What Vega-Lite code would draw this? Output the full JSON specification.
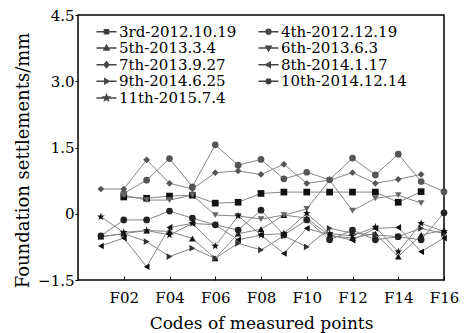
{
"$schema": "https://vega.github.io/schema/vega-lite/v6.json",
"width": 366, "height": 265,
"autosize": {"type": "none"},
"padding": {"left": 78, "top": 15, "right": 22, "bottom": 53},
"background": "white",
"config": {
 "view": {"stroke": "black", "strokeWidth": 1.5},
 "font": "DejaVu Serif",
 "axis": {"labelFont": "DejaVu Serif", "labelFontSize": 15, "labelColor": "black", "titleFont": "DejaVu Serif", "titleFontSize": 17, "titleFontWeight": "normal", "titleColor": "black", "tickColor": "black", "grid": false, "domain": false}
},
"data": {"values": [
{"s":"3rd-2012.10.19","p":2,"v":0.38},{"s":"3rd-2012.10.19","p":3,"v":0.35},{"s":"3rd-2012.10.19","p":4,"v":0.40},{"s":"3rd-2012.10.19","p":5,"v":0.42},{"s":"3rd-2012.10.19","p":6,"v":0.24},{"s":"3rd-2012.10.19","p":7,"v":0.26},{"s":"3rd-2012.10.19","p":8,"v":0.46},{"s":"3rd-2012.10.19","p":9,"v":0.49},{"s":"3rd-2012.10.19","p":10,"v":0.49},{"s":"3rd-2012.10.19","p":11,"v":0.49},{"s":"3rd-2012.10.19","p":12,"v":0.49},{"s":"3rd-2012.10.19","p":13,"v":0.49},{"s":"3rd-2012.10.19","p":14,"v":0.26},{"s":"3rd-2012.10.19","p":15,"v":0.50},
{"s":"4th-2012.12.19","p":2,"v":0.46},{"s":"4th-2012.12.19","p":3,"v":0.76},{"s":"4th-2012.12.19","p":4,"v":1.25},{"s":"4th-2012.12.19","p":5,"v":0.61},{"s":"4th-2012.12.19","p":6,"v":1.56},{"s":"4th-2012.12.19","p":7,"v":1.10},{"s":"4th-2012.12.19","p":8,"v":1.23},{"s":"4th-2012.12.19","p":9,"v":0.79},{"s":"4th-2012.12.19","p":10,"v":0.94},{"s":"4th-2012.12.19","p":11,"v":0.77},{"s":"4th-2012.12.19","p":12,"v":1.26},{"s":"4th-2012.12.19","p":13,"v":0.88},{"s":"4th-2012.12.19","p":14,"v":1.35},{"s":"4th-2012.12.19","p":15,"v":0.73},{"s":"4th-2012.12.19","p":16,"v":0.50},
{"s":"5th-2013.3.4","p":1,"v":-0.52},{"s":"5th-2013.3.4","p":2,"v":-0.45},{"s":"5th-2013.3.4","p":3,"v":-0.38},{"s":"5th-2013.3.4","p":4,"v":-0.40},{"s":"5th-2013.3.4","p":5,"v":-0.56},{"s":"5th-2013.3.4","p":6,"v":-1.01},{"s":"5th-2013.3.4","p":7,"v":-0.45},{"s":"5th-2013.3.4","p":8,"v":-0.35},{"s":"5th-2013.3.4","p":9,"v":-0.03},{"s":"5th-2013.3.4","p":10,"v":-0.10},{"s":"5th-2013.3.4","p":11,"v":-0.50},{"s":"5th-2013.3.4","p":12,"v":-0.55},{"s":"5th-2013.3.4","p":13,"v":-0.45},{"s":"5th-2013.3.4","p":14,"v":-0.97},{"s":"5th-2013.3.4","p":15,"v":-0.48},{"s":"5th-2013.3.4","p":16,"v":-0.37},
{"s":"6th-2013.6.3","p":2,"v":0.42},{"s":"6th-2013.6.3","p":3,"v":0.31},{"s":"6th-2013.6.3","p":4,"v":0.31},{"s":"6th-2013.6.3","p":5,"v":0.42},{"s":"6th-2013.6.3","p":6,"v":-0.03},{"s":"6th-2013.6.3","p":7,"v":-0.05},{"s":"6th-2013.6.3","p":8,"v":-0.12},{"s":"6th-2013.6.3","p":9,"v":-0.03},{"s":"6th-2013.6.3","p":10,"v":0.11},{"s":"6th-2013.6.3","p":11,"v":0.76},{"s":"6th-2013.6.3","p":12,"v":0.07},{"s":"6th-2013.6.3","p":13,"v":0.35},{"s":"6th-2013.6.3","p":14,"v":0.42},{"s":"6th-2013.6.3","p":15,"v":0.24},
{"s":"7th-2013.9.27","p":1,"v":0.56},{"s":"7th-2013.9.27","p":2,"v":0.56},{"s":"7th-2013.9.27","p":3,"v":1.22},{"s":"7th-2013.9.27","p":4,"v":0.69},{"s":"7th-2013.9.27","p":5,"v":0.56},{"s":"7th-2013.9.27","p":6,"v":0.93},{"s":"7th-2013.9.27","p":7,"v":0.97},{"s":"7th-2013.9.27","p":8,"v":0.89},{"s":"7th-2013.9.27","p":9,"v":1.12},{"s":"7th-2013.9.27","p":10,"v":0.69},{"s":"7th-2013.9.27","p":11,"v":0.76},{"s":"7th-2013.9.27","p":12,"v":0.93},{"s":"7th-2013.9.27","p":13,"v":0.69},{"s":"7th-2013.9.27","p":14,"v":0.78},{"s":"7th-2013.9.27","p":15,"v":0.89},
{"s":"8th-2014.1.17","p":1,"v":-0.73},{"s":"8th-2014.1.17","p":2,"v":-0.55},{"s":"8th-2014.1.17","p":3,"v":-1.20},{"s":"8th-2014.1.17","p":4,"v":-0.31},{"s":"8th-2014.1.17","p":5,"v":-0.22},{"s":"8th-2014.1.17","p":6,"v":-0.25},{"s":"8th-2014.1.17","p":7,"v":-0.59},{"s":"8th-2014.1.17","p":8,"v":-0.48},{"s":"8th-2014.1.17","p":9,"v":-0.90},{"s":"8th-2014.1.17","p":10,"v":-0.33},{"s":"8th-2014.1.17","p":11,"v":-0.48},{"s":"8th-2014.1.17","p":12,"v":-0.60},{"s":"8th-2014.1.17","p":13,"v":-0.33},{"s":"8th-2014.1.17","p":14,"v":-0.31},{"s":"8th-2014.1.17","p":15,"v":-0.86},{"s":"8th-2014.1.17","p":16,"v":-0.55},
{"s":"9th-2014.6.25","p":1,"v":-0.52},{"s":"9th-2014.6.25","p":2,"v":-0.45},{"s":"9th-2014.6.25","p":3,"v":-0.63},{"s":"9th-2014.6.25","p":4,"v":-0.97},{"s":"9th-2014.6.25","p":5,"v":-0.78},{"s":"9th-2014.6.25","p":6,"v":-1.01},{"s":"9th-2014.6.25","p":7,"v":-0.67},{"s":"9th-2014.6.25","p":8,"v":-0.82},{"s":"9th-2014.6.25","p":9,"v":-0.50},{"s":"9th-2014.6.25","p":10,"v":-0.75},{"s":"9th-2014.6.25","p":11,"v":-0.33},{"s":"9th-2014.6.25","p":12,"v":-0.44},{"s":"9th-2014.6.25","p":13,"v":-0.48},{"s":"9th-2014.6.25","p":14,"v":-0.52},{"s":"9th-2014.6.25","p":15,"v":-0.33},{"s":"9th-2014.6.25","p":16,"v":-0.45},
{"s":"10th-2014.12.14","p":1,"v":-0.50},{"s":"10th-2014.12.14","p":2,"v":-0.14},{"s":"10th-2014.12.14","p":3,"v":-0.14},{"s":"10th-2014.12.14","p":4,"v":0.06},{"s":"10th-2014.12.14","p":5,"v":-0.10},{"s":"10th-2014.12.14","p":6,"v":-0.25},{"s":"10th-2014.12.14","p":7,"v":-0.37},{"s":"10th-2014.12.14","p":8,"v":0.08},{"s":"10th-2014.12.14","p":9,"v":-0.48},{"s":"10th-2014.12.14","p":10,"v":-0.14},{"s":"10th-2014.12.14","p":11,"v":-0.59},{"s":"10th-2014.12.14","p":12,"v":-0.37},{"s":"10th-2014.12.14","p":13,"v":-0.59},{"s":"10th-2014.12.14","p":14,"v":-0.52},{"s":"10th-2014.12.14","p":15,"v":-0.59},{"s":"10th-2014.12.14","p":16,"v":0.02},
{"s":"11th-2015.7.4","p":1,"v":-0.07},{"s":"11th-2015.7.4","p":2,"v":-0.42},{"s":"11th-2015.7.4","p":3,"v":-0.38},{"s":"11th-2015.7.4","p":4,"v":-0.48},{"s":"11th-2015.7.4","p":5,"v":-0.22},{"s":"11th-2015.7.4","p":6,"v":-0.73},{"s":"11th-2015.7.4","p":7,"v":-0.05},{"s":"11th-2015.7.4","p":8,"v":-0.48},{"s":"11th-2015.7.4","p":9,"v":-0.45},{"s":"11th-2015.7.4","p":10,"v":0.01},{"s":"11th-2015.7.4","p":11,"v":-0.45},{"s":"11th-2015.7.4","p":12,"v":-0.50},{"s":"11th-2015.7.4","p":13,"v":-0.30},{"s":"11th-2015.7.4","p":14,"v":-0.86},{"s":"11th-2015.7.4","p":15,"v":-0.22},{"s":"11th-2015.7.4","p":16,"v":-0.40}
]},
"encoding": {
 "x": {"field": "p", "type": "quantitative", "scale": {"domain": [0, 16], "nice": false, "zero": false},
  "axis": {"values": [2,4,6,8,10,12,14,16], "labelExpr": "datum.value < 10 ? 'F0' + datum.value : 'F' + datum.value", "title": "Codes of measured points", "tickSize": -4, "labelPadding": 14, "titlePadding": 10, "labelFlush": false}},
 "y": {"field": "v", "type": "quantitative", "scale": {"domain": [-1.5, 4.5], "nice": false, "zero": false},
  "axis": {"values": [-1.5, 0, 1.5, 3, 4.5], "labelExpr": "datum.value == 0 ? '0' : format(datum.value, '.1f')", "title": "Foundation settlements/mm", "titleFontSize": 18, "titleY": 145, "tickSize": 3, "labelPadding": 1, "titlePadding": 5, "labelFlush": false}}
},
"layer": [
 {"mark": {"type": "line", "color": "#858585", "strokeWidth": 1}, "encoding": {"detail": {"field": "s"}}},
 {"mark": {"type": "point", "filled": true, "size": 45, "opacity": 1},
  "encoding": {
   "shape": {"field": "s", "type": "nominal", "legend": null,
    "scale": {"domain": ["3rd-2012.10.19","4th-2012.12.19","5th-2013.3.4","6th-2013.6.3","7th-2013.9.27","8th-2014.1.17","9th-2014.6.25","10th-2014.12.14","11th-2015.7.4"],
     "range": ["square","circle","triangle-up","triangle-down","diamond","triangle-left","triangle-right","circle","M0,-1.2L0.29,-0.4L1.14,-0.37L0.46,0.14L0.71,0.97L0,0.48L-0.71,0.97L-0.46,0.14L-1.14,-0.37L-0.29,-0.4Z"]}},
   "color": {"field": "s", "type": "nominal", "legend": null,
    "scale": {"domain": ["3rd-2012.10.19","4th-2012.12.19","5th-2013.3.4","6th-2013.6.3","7th-2013.9.27","8th-2014.1.17","9th-2014.6.25","10th-2014.12.14","11th-2015.7.4"],
     "range": ["#111111","#555555","#111111","#666666","#555555","#111111","#333333","#222222","#111111"]}}
  }},
 {"mark": {"type": "point", "filled": true, "size": 0, "stroke": "#444444", "strokeWidth": 1},
  "encoding": {
   "shape": {"field": "s", "type": "nominal",
    "scale": {"domain": ["3rd-2012.10.19","5th-2013.3.4","7th-2013.9.27","9th-2014.6.25","11th-2015.7.4","4th-2012.12.19","6th-2013.6.3","8th-2014.1.17","10th-2014.12.14"],
     "range": ["M-1.67,0H1.67M-0.35,-0.35H0.35V0.35H-0.35Z","M-1.67,0H1.67M0,-0.45L0.42,0.3L-0.42,0.3Z","M-1.67,0H1.67M0,-0.48L0.4,0L0,0.48L-0.4,0Z","M-1.67,0H1.67M0.45,0L-0.3,-0.42L-0.3,0.42Z","M-1.67,0H1.67M0,-0.5L0.12,-0.17L0.48,-0.15L0.19,0.06L0.3,0.4L0,0.2L-0.3,0.4L-0.19,0.06L-0.48,-0.15L-0.12,-0.17Z","M-1.67,0H1.67M-0.4,0A0.4,0.4,0,1,0,0.4,0A0.4,0.4,0,1,0,-0.4,0Z","M-1.67,0H1.67M0,0.45L0.42,-0.3L-0.42,-0.3Z","M-1.67,0H1.67M-0.45,0L0.3,-0.42L0.3,0.42Z","M-1.67,0H1.67M-0.4,0A0.4,0.4,0,1,0,0.4,0A0.4,0.4,0,1,0,-0.4,0Z"]},
    "legend": {"title": null, "orient": "none", "legendX": 21, "legendY": 9, "columns": 2, "columnPadding": 18, "rowPadding": 0.6, "symbolSize": 144, "labelFontSize": 15, "labelFont": "DejaVu Serif", "labelColor": "black", "labelOffset": 5, "symbolOpacity": 1, "padding": 0}},
   "color": {"field": "s", "type": "nominal",
    "scale": {"domain": ["3rd-2012.10.19","5th-2013.3.4","7th-2013.9.27","9th-2014.6.25","11th-2015.7.4","4th-2012.12.19","6th-2013.6.3","8th-2014.1.17","10th-2014.12.14"],
     "range": ["#111111","#111111","#555555","#333333","#111111","#555555","#666666","#111111","#222222"]},
    "legend": {"title": null, "orient": "none", "legendX": 21, "legendY": 9, "columns": 2, "columnPadding": 18, "rowPadding": 0.6, "symbolSize": 144, "labelFontSize": 15, "labelFont": "DejaVu Serif", "labelColor": "black", "labelOffset": 5, "symbolOpacity": 1, "padding": 0}}
  }}
],
"resolve": {"scale": {"shape": "independent", "color": "independent"}}
}
